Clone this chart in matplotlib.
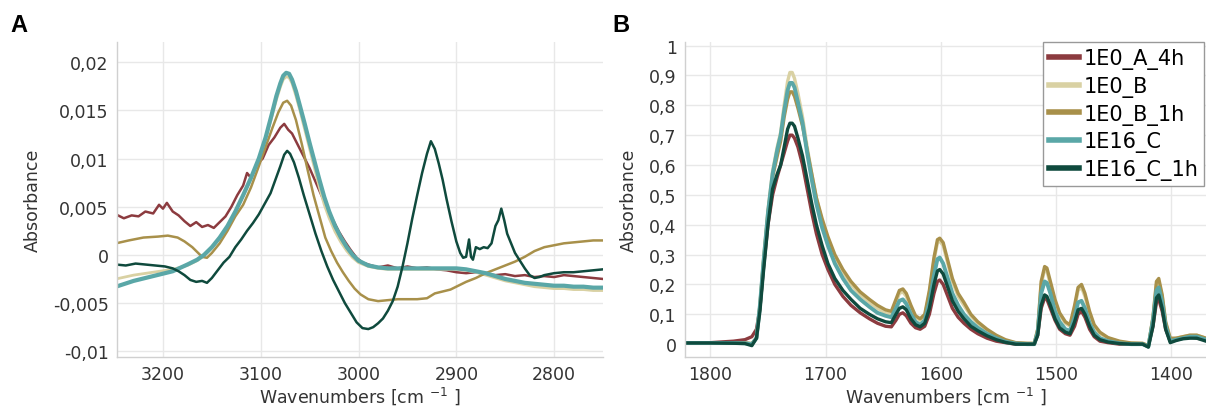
import numpy as np
import matplotlib.pyplot as plt
from matplotlib.ticker import FuncFormatter, MultipleLocator

plt.rcParams['font.family'] = ['DejaVu Sans']

labels = ['1E0_A_4h', '1E0_B', '1E0_B_1h', '1E16_C', '1E16_C_1h']
colors = ['#8c3b3f', '#d9d1a3', '#a8904a', '#5aa7a7', '#0f4a3d']

# ---- panel A : 3250-2750 cm-1 ----
a_red_x = [3248, 3240, 3232, 3225, 3218, 3210, 3204, 3200, 3196, 3190, 3184, 3178, 3172, 3166,
           3160, 3154, 3148, 3142, 3136, 3130, 3124, 3118, 3114, 3110, 3104, 3098, 3092, 3086,
           3080, 3076, 3072, 3068, 3062, 3056, 3050, 3044, 3038, 3032, 3026, 3020, 3014, 3008,
           3002, 2996, 2990, 2980, 2970, 2960, 2950, 2940, 2930, 2920, 2910, 2900, 2890, 2880,
           2870, 2860, 2850, 2840, 2830, 2820, 2810, 2800, 2790, 2780, 2770, 2760, 2750]
a_red_y = [0.0042, 0.0038, 0.0041, 0.0040, 0.0045, 0.0043, 0.0052, 0.0048, 0.0054, 0.0045,
           0.0041, 0.0035, 0.0030, 0.0034, 0.0029, 0.0031, 0.0028, 0.0034, 0.0040, 0.0050,
           0.0062, 0.0072, 0.0085, 0.0080, 0.0094, 0.0100, 0.0114, 0.0122, 0.0132, 0.0136,
           0.0130, 0.0126, 0.0114, 0.0102, 0.0090, 0.0076, 0.0062, 0.0048, 0.0036, 0.0024,
           0.0014, 0.0005, -0.0003, -0.0008, -0.0010, -0.0013, -0.0011, -0.0014, -0.0012,
           -0.0014, -0.0013, -0.0015, -0.0016, -0.0018, -0.0019, -0.0018, -0.0020, -0.0021,
           -0.0020, -0.0022, -0.0021, -0.0023, -0.0022, -0.0023, -0.0021, -0.0022, -0.0023,
           -0.0024, -0.0025]

a_gold_x = [3248, 3235, 3220, 3205, 3195, 3185, 3178, 3170, 3165, 3160, 3155, 3150, 3142, 3134,
            3126, 3118, 3110, 3102, 3094, 3088, 3082, 3077, 3073, 3069, 3064, 3058, 3052, 3046,
            3040, 3034, 3028, 3022, 3016, 3010, 3004, 2998, 2990, 2980, 2970, 2960, 2950, 2940,
            2930, 2922, 2914, 2906, 2898, 2890, 2880, 2870, 2860, 2850, 2840, 2830, 2820, 2810,
            2800, 2790, 2780, 2770, 2760, 2750]
a_gold_y = [0.0012, 0.0015, 0.0018, 0.0019, 0.0020, 0.0018, 0.0014, 0.0008, 0.0003, -0.0002,
            -0.0003, 0.0002, 0.0012, 0.0025, 0.0040, 0.0052, 0.0070, 0.0092, 0.0115, 0.0132,
            0.0148, 0.0158, 0.0160, 0.0155, 0.0140, 0.0115, 0.0088, 0.0062, 0.0040, 0.0018,
            0.0004, -0.0008, -0.0018, -0.0027, -0.0035, -0.0041, -0.0046, -0.0048, -0.0047,
            -0.0046, -0.0046, -0.0046, -0.0045, -0.0040, -0.0038, -0.0036, -0.0032, -0.0028,
            -0.0024, -0.0019, -0.0015, -0.0011, -0.0007, -0.0002, 0.0004, 0.0008, 0.0010,
            0.0012, 0.0013, 0.0014, 0.0015, 0.0015]

a_c_x = [3248, 3230, 3210, 3190, 3175, 3165, 3158, 3150, 3142, 3134, 3126, 3118, 3110, 3102,
         3095, 3089, 3084, 3080, 3077, 3074, 3071, 3068, 3064, 3060, 3055, 3050, 3045, 3040,
         3035, 3030, 3024, 3018, 3012, 3006, 3000, 2990, 2980, 2970, 2950, 2930, 2910, 2900,
         2890, 2880, 2870, 2860, 2850, 2840, 2830, 2820, 2810, 2800, 2790, 2780, 2770, 2760, 2750]
a_teal_y = [-0.0033, -0.0027, -0.0022, -0.0017, -0.0010, -0.0005, 0.0000, 0.0008, 0.0018,
            0.0030, 0.0045, 0.0062, 0.0080, 0.0100, 0.0122, 0.0145, 0.0165, 0.0178, 0.0186,
            0.0189, 0.0188, 0.0182, 0.0170, 0.0155, 0.0136, 0.0116, 0.0097, 0.0078, 0.0060,
            0.0045, 0.0030, 0.0018, 0.0008, 0.0000, -0.0006, -0.0011, -0.0013, -0.0014,
            -0.0014, -0.0014, -0.0014, -0.0014, -0.0015, -0.0017, -0.0019, -0.0022, -0.0025,
            -0.0027, -0.0029, -0.0030, -0.0031, -0.0032, -0.0032, -0.0033, -0.0033, -0.0034,
            -0.0034]
a_beige_y = [-0.0025, -0.0021, -0.0018, -0.0015, -0.0011, -0.0006, -0.0001, 0.0007, 0.0017,
             0.0029, 0.0044, 0.0061, 0.0079, 0.0099, 0.0120, 0.0142, 0.0161, 0.0174, 0.0182,
             0.0185, 0.0184, 0.0178, 0.0165, 0.0150, 0.0130, 0.0110, 0.0090, 0.0070, 0.0052,
             0.0038, 0.0024, 0.0013, 0.0004, -0.0003, -0.0008, -0.0012, -0.0014, -0.0015,
             -0.0015, -0.0015, -0.0015, -0.0015, -0.0016, -0.0018, -0.0021, -0.0024, -0.0027,
             -0.0029, -0.0031, -0.0033, -0.0034, -0.0035, -0.0035, -0.0036, -0.0036, -0.0037,
             -0.0037]

a_dark_x = [3248, 3238, 3228, 3218, 3208, 3198, 3190, 3184, 3178, 3172, 3166, 3160, 3155, 3150,
            3144, 3138, 3132, 3126, 3120, 3114, 3108, 3102, 3096, 3090, 3085, 3080, 3076, 3073,
            3070, 3066, 3061, 3056, 3050, 3044, 3038, 3032, 3026, 3020, 3014, 3008, 3002, 2996,
            2990, 2985, 2980, 2975, 2970, 2965, 2960, 2955, 2950, 2945, 2940, 2935, 2930, 2926,
            2922, 2918, 2914, 2910, 2905, 2900, 2896, 2893, 2890, 2887, 2885, 2883, 2880, 2876,
            2872, 2868, 2864, 2860, 2857, 2854, 2851, 2848, 2844, 2840, 2835, 2830, 2825, 2820,
            2815, 2810, 2800, 2790, 2780, 2770, 2760, 2750]
a_dark_y = [-0.0010, -0.0011, -0.0009, -0.0010, -0.0011, -0.0012, -0.0014, -0.0017, -0.0021,
            -0.0026, -0.0028, -0.0027, -0.0029, -0.0024, -0.0016, -0.0008, -0.0002, 0.0008,
            0.0016, 0.0025, 0.0033, 0.0042, 0.0053, 0.0064, 0.0078, 0.0092, 0.0104, 0.0108,
            0.0105, 0.0096, 0.0080, 0.0062, 0.0042, 0.0022, 0.0004, -0.0012, -0.0026, -0.0038,
            -0.0050, -0.0060, -0.0070, -0.0076, -0.0077, -0.0075, -0.0071, -0.0066, -0.0058,
            -0.0048, -0.0033, -0.0012, 0.0012, 0.0038, 0.0062, 0.0085, 0.0105, 0.0118, 0.0110,
            0.0095, 0.0078, 0.0058, 0.0035, 0.0014, 0.0002, -0.0003, -0.0002, 0.0016, -0.0002,
            -0.0005, 0.0008, 0.0006, 0.0008, 0.0007, 0.0012, 0.0030, 0.0036, 0.0048, 0.0036,
            0.0022, 0.0012, 0.0002, -0.0006, -0.0014, -0.0021, -0.0024, -0.0023, -0.0021,
            -0.0019, -0.0018, -0.0018, -0.0017, -0.0016, -0.0015]

# ---- panel B : 1822-1370 cm-1 ----
b_x = [1822, 1800, 1780, 1770, 1764, 1760, 1757, 1754, 1750, 1746, 1742, 1739, 1736, 1733,
       1731, 1729, 1727, 1724, 1720, 1716, 1712, 1708, 1703, 1698, 1692, 1685, 1678, 1670,
       1662, 1655, 1648, 1643, 1639, 1636, 1633, 1630, 1626, 1622, 1618, 1614, 1610, 1606,
       1603, 1601, 1598, 1594, 1590, 1585, 1580, 1574, 1568, 1560, 1552, 1544, 1535, 1525,
       1519, 1516, 1513, 1510, 1508, 1505, 1501, 1497, 1492, 1488, 1484, 1481, 1478, 1475,
       1471, 1467, 1462, 1455, 1445, 1435, 1425, 1420, 1416, 1413, 1411, 1408, 1405, 1401,
       1396, 1390, 1384, 1378, 1370]
b_red = [0.005, 0.005, 0.010, 0.015, 0.025, 0.05,
         0.12, 0.25, 0.40, 0.50, 0.56, 0.60, 0.64, 0.68, 0.70, 0.70, 0.69, 0.66,
         0.60, 0.52, 0.44, 0.37, 0.30, 0.25, 0.20, 0.16, 0.13, 0.105, 0.085, 0.07, 0.06, 0.058,
         0.08, 0.10, 0.105, 0.095, 0.07, 0.055, 0.05, 0.06,
         0.10, 0.17, 0.21, 0.215, 0.20, 0.16, 0.12, 0.09, 0.07, 0.05, 0.035, 0.02, 0.01, 0.005,
         0.0, 0.0,
         0.0, 0.03, 0.12, 0.155, 0.15, 0.12, 0.08, 0.05, 0.035, 0.03,
         0.06, 0.10, 0.11, 0.09, 0.05, 0.025, 0.01, 0.005, 0.0, 0.0, 0.0,
         -0.005, 0.06, 0.14, 0.15, 0.11, 0.05, 0.01, 0.015, 0.02, 0.025, 0.02, 0.015]
b_beige = [0.004, 0.004, 0.004, 0.004, 0.002, 0.02,
           0.13, 0.28, 0.45, 0.58, 0.66, 0.71, 0.80, 0.88, 0.91, 0.91, 0.89, 0.84,
           0.76, 0.66, 0.57, 0.49, 0.41, 0.35, 0.29, 0.24, 0.20, 0.165, 0.14, 0.12, 0.105, 0.10,
           0.14, 0.17, 0.175, 0.16, 0.12, 0.09, 0.08, 0.095,
           0.17, 0.28, 0.34, 0.345, 0.33, 0.27, 0.21, 0.16, 0.13, 0.095, 0.07, 0.045, 0.025,
           0.012, 0.004, 0.002,
           0.002, 0.05, 0.20, 0.25, 0.245, 0.20, 0.14, 0.10, 0.07, 0.06,
           0.12, 0.18, 0.19, 0.16, 0.10, 0.06, 0.035, 0.02, 0.008, 0.003, 0.002,
           -0.005, 0.09, 0.20, 0.21, 0.16, 0.07, 0.015, 0.02, 0.025, 0.03, 0.03, 0.02]
b_gold = [0.004, 0.004, 0.004, 0.004, 0.002, 0.02,
          0.13, 0.27, 0.44, 0.56, 0.63, 0.68, 0.76, 0.82, 0.845, 0.845, 0.83, 0.79,
          0.73, 0.65, 0.57, 0.49, 0.42, 0.36, 0.30, 0.25, 0.21, 0.175, 0.15, 0.13, 0.115, 0.11,
          0.15, 0.18, 0.185, 0.17, 0.13, 0.095, 0.085, 0.10,
          0.18, 0.29, 0.35, 0.355, 0.34, 0.28, 0.22, 0.17, 0.14, 0.10, 0.075, 0.05, 0.03,
          0.015, 0.005, 0.003,
          0.003, 0.05, 0.21, 0.26, 0.255, 0.21, 0.15, 0.105, 0.075, 0.065,
          0.13, 0.19, 0.20, 0.17, 0.11, 0.065, 0.04, 0.022, 0.01, 0.004, 0.003,
          -0.005, 0.09, 0.21, 0.22, 0.165, 0.075, 0.02, 0.02, 0.025, 0.03, 0.03, 0.02]
b_teal = [0.004, 0.004, 0.004, 0.003, 0.0, 0.02,
          0.13, 0.27, 0.44, 0.57, 0.65, 0.70, 0.78, 0.85, 0.875, 0.875, 0.86, 0.81,
          0.74, 0.64, 0.55, 0.47, 0.39, 0.33, 0.27, 0.22, 0.18, 0.15, 0.125, 0.105, 0.095, 0.09,
          0.12, 0.145, 0.15, 0.135, 0.10, 0.075, 0.065, 0.08,
          0.14, 0.23, 0.285, 0.29, 0.27, 0.22, 0.17, 0.13, 0.10, 0.075, 0.055, 0.035, 0.02,
          0.008, 0.002, 0.0,
          0.0, 0.04, 0.17, 0.21, 0.205, 0.17, 0.11, 0.075, 0.05, 0.045,
          0.09, 0.14, 0.145, 0.12, 0.07, 0.04, 0.02, 0.01, 0.003, 0.0, 0.0,
          -0.008, 0.08, 0.18, 0.19, 0.14, 0.06, 0.01, 0.015, 0.02, 0.025, 0.025, 0.015]
b_dark = [0.004, 0.004, 0.003, 0.002, -0.005, 0.02,
          0.11, 0.24, 0.40, 0.52, 0.57, 0.60, 0.66, 0.72, 0.74, 0.74, 0.73, 0.69,
          0.63, 0.55, 0.47, 0.40, 0.33, 0.27, 0.22, 0.18, 0.15, 0.12, 0.10, 0.085, 0.075, 0.072,
          0.10, 0.12, 0.125, 0.115, 0.085, 0.065, 0.058, 0.07,
          0.12, 0.20, 0.245, 0.25, 0.235, 0.19, 0.145, 0.11, 0.085, 0.06, 0.045, 0.028, 0.015,
          0.006, 0.0, 0.0,
          0.0, 0.03, 0.13, 0.165, 0.16, 0.13, 0.085, 0.055, 0.04, 0.035,
          0.075, 0.115, 0.12, 0.10, 0.06, 0.03, 0.015, 0.007, 0.002, 0.0, 0.0,
          -0.01, 0.06, 0.155, 0.165, 0.12, 0.05, 0.005, 0.012, 0.018, 0.02, 0.02, 0.01]


def comma(v, pos):
    return ('%g' % round(v, 4)).replace('.', ',')


def style(ax):
    for s in ['top', 'right']:
        ax.spines[s].set_visible(False)
    for s in ['left', 'bottom']:
        ax.spines[s].set_color('#d0d0d0')
        ax.spines[s].set_linewidth(1.0)
    ax.grid(True, color='#e8e8e8', linewidth=1.0)
    ax.set_axisbelow(True)
    ax.tick_params(length=0, labelsize=12.5, labelcolor='#333333', pad=6)
    ax.yaxis.set_major_formatter(FuncFormatter(comma))
    ax.set_xlabel('Wavenumbers [cm $^{-1}$ ]', fontsize=12.5, color='#333333', labelpad=1)
    ax.set_ylabel('Absorbance', fontsize=12.5, color='#333333')


fig = plt.figure(figsize=(12.06, 4.10), dpi=100)
axA = fig.add_axes([117 / 1206, 52 / 410, 486 / 1206, 315 / 410])
axB = fig.add_axes([685 / 1206, 52 / 410, 521 / 1206, 315 / 410])

# panel A
axA.plot(a_red_x, a_red_y, color=colors[0], lw=1.8, label=labels[0])
axA.plot(a_c_x, a_beige_y, color=colors[1], lw=2.0, label=labels[1])
axA.plot(a_gold_x, a_gold_y, color=colors[2], lw=1.8, label=labels[2])
axA.plot(a_c_x, a_teal_y, color=colors[3], lw=3.0, label=labels[3])
axA.plot(a_dark_x, a_dark_y, color=colors[4], lw=1.8, label=labels[4])
axA.set_xlim(3247, 2750)
axA.set_ylim(-0.0106, 0.0221)
axA.xaxis.set_major_locator(MultipleLocator(100))
axA.yaxis.set_major_locator(MultipleLocator(0.005))
style(axA)
axA.yaxis.labelpad = 8

# panel B
b_series = [b_red, b_beige, b_gold, b_teal, b_dark]
b_widths = [2.4, 2.4, 2.4, 2.8, 2.4]
for ys, c, lab, w in zip(b_series, colors, labels, b_widths):
    axB.plot(b_x, ys, color=c, lw=w, label=lab)
axB.set_xlim(1822, 1370)
axB.set_ylim(-0.043, 1.012)
axB.xaxis.set_major_locator(MultipleLocator(100))
axB.yaxis.set_major_locator(MultipleLocator(0.1))
style(axB)
axB.yaxis.labelpad = 8

leg = axB.legend(loc='upper right', bbox_to_anchor=(0.997, 1.0), borderaxespad=0,
                 fontsize=15, handlelength=1.45, handletextpad=0.2, borderpad=0.3,
                 labelspacing=0.32, fancybox=False, framealpha=1)
leg.get_frame().set_edgecolor('#999999')
leg.get_frame().set_linewidth(1.0)
for h in leg.get_lines():
    h.set_linewidth(4)

fig.text(10 / 1206, 1 - 32 / 410, 'A', fontsize=17, fontweight='bold', family='Liberation Sans')
fig.text(612 / 1206, 1 - 32 / 410, 'B', fontsize=17, fontweight='bold', family='Liberation Sans')

fig.savefig('out.png', dpi=100)
